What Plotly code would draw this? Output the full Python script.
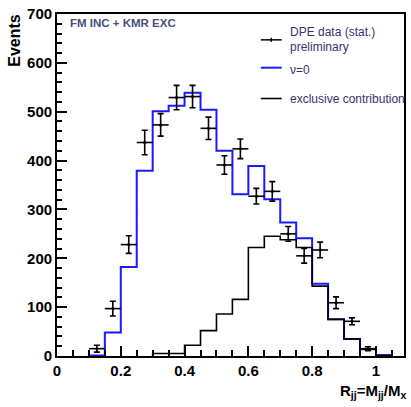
import plotly.graph_objects as go

# ---- data ----
bin_width = 0.05
nu0_edges_start = 0.10
nu0_values = [1, 48, 182, 379, 501, 512, 539, 504, 420, 331, 389, 321, 273, 241, 148, 75, 35, 14, 2]

excl_edges_start = 0.30
excl_values = [5, 5, 22, 52, 86, 116, 222, 245, 238, 222, 143, 75, 35, 14, 1]

data_x = [0.125, 0.175, 0.225, 0.275, 0.325, 0.375, 0.425, 0.475, 0.525,
          0.575, 0.625, 0.675, 0.725, 0.775, 0.825, 0.875, 0.925, 0.975]
data_y = [15, 97, 228, 437, 473, 529, 531, 466, 391,
          424, 327, 337, 250, 205, 217, 109, 71, 15]
data_err = [7, 15, 18, 25, 23, 25, 23, 23, 19,
            20, 16, 20, 15, 15, 16, 12, 7, 4]

x_ticks = [0, 0.2, 0.4, 0.6, 0.8, 1]
x_tick_labels = ["0", "0.2", "0.4", "0.6", "0.8", "1"]
y_ticks = [0, 100, 200, 300, 400, 500, 600, 700]


def step_outline(start, width, values):
    edges = [start + i * width for i in range(len(values) + 1)]
    xs = [edges[0]] + edges[:-1] + [edges[-1]]
    ys = [0] + list(values) + [0]
    return xs, ys


fig = go.Figure()

bx, by = step_outline(nu0_edges_start, bin_width, nu0_values)
fig.add_trace(go.Scatter(x=bx, y=by, mode="lines", line=dict(color="#1a1aff", width=2, shape="hv"),
                         name="ν=0", showlegend=False))

ex, ey = step_outline(excl_edges_start, bin_width, excl_values)
fig.add_trace(go.Scatter(x=ex, y=ey, mode="lines", line=dict(color="black", width=1.6, shape="hv"),
                         name="exclusive contribution", showlegend=False))

fig.add_trace(go.Scatter(
    x=data_x, y=data_y, mode="markers",
    marker=dict(color="black", size=3),
    error_y=dict(type="data", array=data_err, color="black", thickness=1.6, width=3),
    error_x=dict(type="constant", value=bin_width / 2, color="black", thickness=1.6, width=0),
    name="DPE data (stat.) preliminary", showlegend=False))

tick_font = dict(family="Liberation Sans, Arial, sans-serif", size=15, color="black", weight="bold")

fig.update_xaxes(range=[0, 1.088], tickvals=x_ticks, ticktext=x_tick_labels,
                 ticks="inside", ticklen=10, tickwidth=1.5, tickcolor="black",
                 minor=dict(dtick=0.05, tick0=0, ticks="inside", ticklen=6, tickwidth=1.5, tickcolor="black"),
                 showline=True, linecolor="black", linewidth=1.8, mirror=True,
                 showgrid=False, zeroline=False, tickfont=tick_font)
fig.update_yaxes(range=[0, 700], tickvals=y_ticks,
                 ticks="inside", ticklen=10, tickwidth=1.5, tickcolor="black",
                 minor=dict(dtick=20, tick0=0, ticks="inside", ticklen=5, tickwidth=1.5, tickcolor="black"),
                 showline=True, linecolor="black", linewidth=1.8, mirror=True,
                 showgrid=False, zeroline=False, tickfont=tick_font)

W, H = 411, 407
L, R, T, B = 57, 5, 12, 51
pw, ph = W - L - R, H - T - B


def px(xp):
    return (xp - L) / pw


def py(yp):
    return (H - B - yp) / ph


legend_color = "#3d2f6b"
annotations = [
    dict(x=px(14), y=py(10), xref="paper", yref="paper", text="<b>Events</b>", textangle=-90,
         showarrow=False, xanchor="center", yanchor="top",
         font=dict(family="Liberation Sans, Arial", size=16, color="black")),
    dict(x=px(410), y=py(392), xref="paper", yref="paper",
         text="<b>R<sub>jj</sub>=M<sub>jj</sub>/M<sub>x</sub></b>",
         showarrow=False, xanchor="right", yanchor="middle",
         font=dict(family="Liberation Sans, Arial", size=15, color="black")),
    dict(x=px(68), y=py(21), xref="paper", yref="paper", text="<b>FM INC + KMR EXC</b>",
         showarrow=False, xanchor="left", yanchor="middle",
         font=dict(family="Liberation Sans, Arial", size=11.5, color="#4a4f7a")),
    dict(x=px(289), y=py(30), xref="paper", yref="paper", text="DPE data (stat.)",
         showarrow=False, xanchor="left", yanchor="middle",
         font=dict(family="Liberation Sans, Arial", size=12, color=legend_color)),
    dict(x=px(289), y=py(45), xref="paper", yref="paper", text="preliminary",
         showarrow=False, xanchor="left", yanchor="middle",
         font=dict(family="Liberation Sans, Arial", size=12, color=legend_color)),
    dict(x=px(289), y=py(68), xref="paper", yref="paper", text="ν=0",
         showarrow=False, xanchor="left", yanchor="middle",
         font=dict(family="Liberation Sans, Arial", size=12, color=legend_color)),
    dict(x=px(289), y=py(97), xref="paper", yref="paper", text="exclusive contribution",
         showarrow=False, xanchor="left", yanchor="middle",
         font=dict(family="Liberation Sans, Arial", size=12, color=legend_color)),
]

shapes = [
    dict(type="line", xref="paper", yref="paper", x0=px(262), x1=px(283), y0=py(38), y1=py(38),
         line=dict(color="black", width=1.5)),
    dict(type="line", xref="paper", yref="paper", x0=px(272.5), x1=px(272.5), y0=py(36), y1=py(40),
         line=dict(color="black", width=1.5)),
    dict(type="line", xref="paper", yref="paper", x0=px(262), x1=px(283), y0=py(66), y1=py(66),
         line=dict(color="#1a1aff", width=2)),
    dict(type="line", xref="paper", yref="paper", x0=px(262), x1=px(283), y0=py(97), y1=py(97),
         line=dict(color="black", width=1.6)),
]

fig.update_layout(width=W, height=H, margin=dict(l=L, r=R, t=T, b=B),
                  paper_bgcolor="white", plot_bgcolor="white",
                  annotations=annotations, shapes=shapes, showlegend=False)

fig.write_html("out.html", config={"displayModeBar": False},
               post_script="document.body.style.margin='0';document.body.style.overflow='hidden';")
